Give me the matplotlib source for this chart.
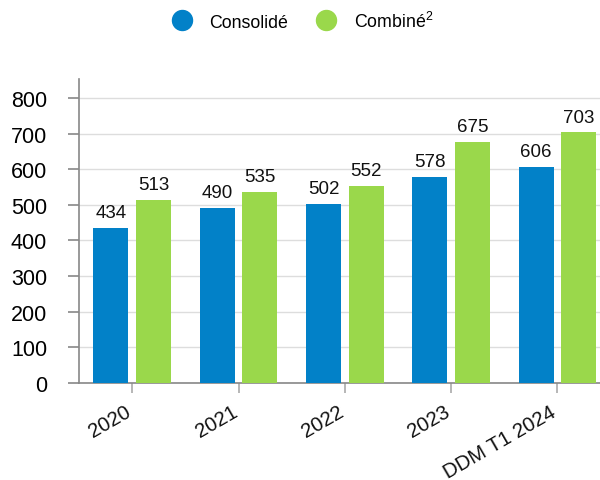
import matplotlib
matplotlib.use('Agg')
import matplotlib.pyplot as plt
from matplotlib.lines import Line2D
import numpy as np

# data
categories = ['2020', '2021', '2022', '2023', 'DDM T1 2024']
consolide = [434, 490, 502, 578, 606]
combine = [513, 535, 552, 675, 703]
series_names = ['Consolidé', 'Combiné$^{2}$']
yticks = [0, 100, 200, 300, 400, 500, 600, 700, 800]

blue = '#0281c8'
green = '#9ad84b'

plt.rcParams['font.family'] = ['Liberation Sans', 'DejaVu Sans']
plt.rcParams['mathtext.default'] = 'regular'

fig = plt.figure(figsize=(6.0, 4.81), dpi=100)
ax = fig.add_axes([0.1317, 0.2017, 0.8683, 0.632])

x = np.arange(len(categories))
w = 0.33
off = 0.2
b1 = ax.bar(x - off, consolide, w, color=blue, zorder=3)
b2 = ax.bar(x + off, combine, w, color=green, zorder=3)

# value labels
for bars, vals in ((b1, consolide), (b2, combine)):
    for rect, v in zip(bars, vals):
        ax.annotate(str(v), (rect.get_x() + rect.get_width() / 2, v),
                    xytext=(0, 5), textcoords='offset points',
                    ha='center', va='bottom', fontsize=13.5, color='#111111')

ax.set_xlim(-0.5, len(categories) - 0.6)
ax.set_ylim(0, 853)
ax.set_yticks(yticks)
ax.set_xticks(x)
ax.tick_params(axis='x', labelbottom=False)

# rotated category labels, baseline end sitting under the tick
for xi, cat in zip(x, categories):
    ax.annotate(cat, (xi, 0), xytext=(0, -22.8), textcoords='offset points',
                rotation=30, rotation_mode='anchor', ha='right', va='baseline',
                fontsize=14.7, color='#111111', annotation_clip=False)

ax.grid(axis='y', color='#dddddd', linewidth=1, zorder=0)
for s in ('top', 'right'):
    ax.spines[s].set_visible(False)
for s in ('left', 'bottom'):
    ax.spines[s].set_color('#888888')
    ax.spines[s].set_linewidth(1.2)

ax.tick_params(axis='y', length=8, width=1.2, color='#888888', labelsize=15.5, pad=15)
ax.tick_params(axis='x', length=7, width=1.2, color='#aaaaaa')

# legend
handles = [Line2D([], [], marker='o', linestyle='none', markersize=14.4, color=c)
           for c in (blue, green)]
fig.legend(handles, series_names, loc='center', bbox_to_anchor=(0.505, 0.955),
           ncol=2, frameon=False, fontsize=12.8, handlelength=1.0,
           handletextpad=1.07, columnspacing=1.6)

fig.savefig('out.png', dpi=100)
